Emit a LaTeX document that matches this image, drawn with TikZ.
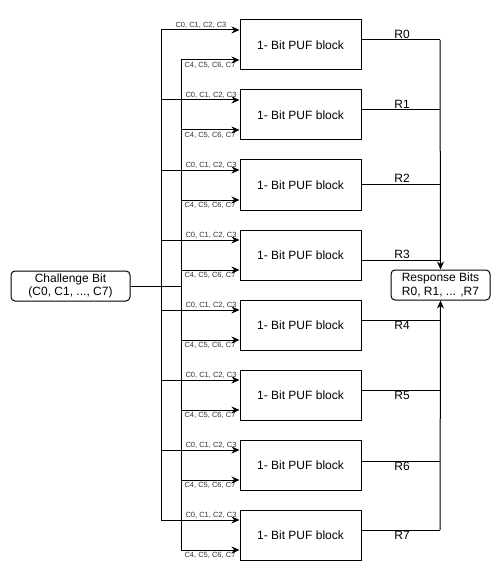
\documentclass[tikz,border=0pt]{standalone}
\usepackage{fontspec}
\setmainfont{Liberation Sans}
\usetikzlibrary{arrows.meta, positioning}
\tikzstyle{pufblock} = [draw, line width=1pt, minimum width=121pt, minimum height=50pt, inner sep=0pt, font=\fontsize{12}{14}\selectfont]
\tikzstyle{endbox} = [draw, line width=1pt, rounded corners=4pt, minimum height=30pt, align=center, inner sep=0pt, font=\fontsize{12}{13.5}\selectfont]
\tikzstyle{bitlabel} = [font=\fontsize{7.5}{8}\selectfont, text=black!80, inner sep=0.5pt]
\tikzstyle{rlabel} = [font=\fontsize{12}{14}\selectfont, inner sep=1pt]
\tikzstyle{wire} = [line width=1pt]
\tikzstyle{feed} = [line width=1pt, -{Stealth[length=8pt,width=7pt]}]

\begin{document}
\begin{tikzpicture}[x=1pt, y=-1pt]
	\useasboundingbox (0,0) rectangle (501,580);
	\node[endbox, minimum width=119pt] (chal) at (70.5,286) {Challenge Bit\\(C0, C1, ..., C7)};
	\node[endbox, minimum width=99pt] (resp) at (440.5,285) {Response Bits\\R0, R1, ... ,R7};
	\node[bitlabel, anchor=south] (tl0) at (201,29.5) {C0, C1, C2, C3};
	\foreach \i in {1,...,7}{
		\node[bitlabel, anchor=south] (tl\i) at (211,29.5+70*\i) {C0, C1, C2, C3};
	}
	\foreach \i/\ro/\anc in {0/20/south,1/20/south,2/24/south,3/30/south,4/20/north,5/20/north,6/21/north,7/20/north}{
		\node[pufblock] (b\i) at (300.5,45+70*\i) {1- Bit PUF block};
		\coordinate (ca\i) at (161,30+70*\i);
		\coordinate (cb\i) at (181,60+70*\i);
		\coordinate (r\i) at (440,20+70*\i+\ro);
		\node[bitlabel, anchor=north] (bl\i) at (210,62+70*\i) {C4, C5, C6, C7};
		\node[rlabel, anchor=\anc] (rl\i) at (402,20+70*\i+\ro) {R\i};
		\draw[feed] (ca\i) -- (ca\i -| b\i.west);
		\draw[feed] (cb\i) -- (cb\i -| b\i.west);
		\draw[wire] (b\i.east |- r\i) -- (r\i);
	}
	\draw[wire] (ca0) -- (ca7);
	\draw[wire] (cb0) -- (cb7);
	\draw[wire] (chal.east) -- (chal.east -| cb0);
	\draw[feed] (r0) -- (resp.north);
	\draw[feed] (r7) -- (resp.south);
\end{tikzpicture}
\end{document}
